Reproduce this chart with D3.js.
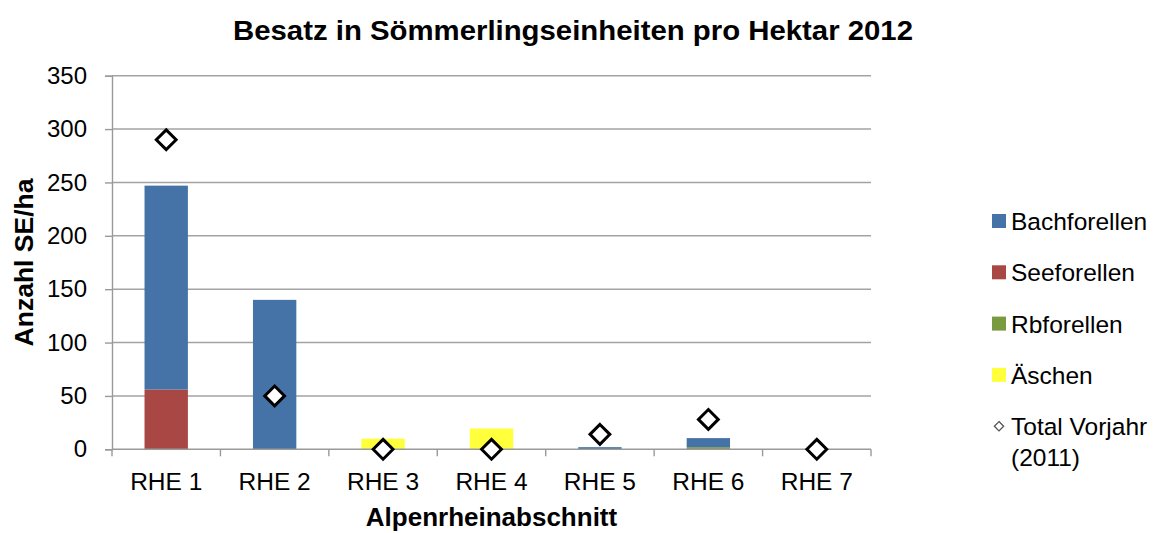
<!doctype html>
<html>
<head>
  <meta charset="utf-8">
  <script src="https://d3js.org/d3.v7.min.js"></script>
  <style>
    body { margin: 0; background: #fff; }
    text { font-family: "Liberation Sans", Arial, sans-serif; fill: #000; }
  </style>
</head>
<body>
  <div id="viz"></div>
  <script>
    // data
    var categories = ["RHE 1", "RHE 2", "RHE 3", "RHE 4", "RHE 5", "RHE 6", "RHE 7"];
    var bachforellen = [191, 140, 0, 0, 2, 8.5, 0];
    var seeforellen  = [56, 0, 0, 0, 0, 0, 0];
    var rbforellen   = [0, 0, 0, 0, 0, 2, 0];
    var aeschen      = [0, 0, 10, 19.5, 0, 0, 0];
    var vorjahr      = [290, 50, 0, 0, 14, 28, 0];
    var yTicks = [0, 50, 100, 150, 200, 250, 300, 350];

    // stacked bottom to top, like the Excel series order
    var series = [
      {key: "aeschen", name: "Äschen", color: "#ffff3b", values: aeschen},
      {key: "rb", name: "Rbforellen", color: "#7a9a3f", values: rbforellen},
      {key: "see", name: "Seeforellen", color: "#a94744", values: seeforellen},
      {key: "bach", name: "Bachforellen", color: "#4573a7", values: bachforellen}
    ];

    var rows = categories.map(function(c, i) {
      var r = {cat: c, total2011: vorjahr[i]};
      series.forEach(function(s) { r[s.key] = s.values[i]; });
      return r;
    });

    var W = 1153, H = 533;
    var plot = {left: 112, right: 871, top: 75.7, bottom: 449.3};

    var svg = d3.select("#viz").append("svg")
      .attr("width", W).attr("height", H);

    var x = d3.scaleBand().domain(categories)
      .range([plot.left, plot.right])
      .paddingInner(0.6).paddingOuter(0.3);
    var y = d3.scaleLinear().domain([0, 350]).range([plot.bottom, plot.top]);

    // gridlines
    svg.append("g").selectAll("line")
      .data(yTicks.filter(function(d) { return d > 0; }))
      .enter().append("line")
      .attr("x1", plot.left).attr("x2", plot.right)
      .attr("y1", function(d) { return y(d); })
      .attr("y2", function(d) { return y(d); })
      .attr("stroke", "#a3a3a3").attr("stroke-width", 1.4);

    // stacked bars
    var stack = d3.stack().keys(series.map(function(s) { return s.key; }));
    var layers = stack(rows);
    svg.append("g").selectAll("g")
      .data(layers)
      .enter().append("g")
      .attr("fill", function(d, i) { return series[i].color; })
      .selectAll("rect")
      .data(function(d) { return d; })
      .enter().append("rect")
      .attr("x", function(d) { return x(d.data.cat); })
      .attr("width", x.bandwidth())
      .attr("y", function(d) { return y(d[1]); })
      .attr("height", function(d) { return y(d[0]) - y(d[1]); });

    // y axis
    var yAxis = svg.append("g")
      .attr("transform", "translate(" + plot.left + ",0)")
      .call(d3.axisLeft(y).tickValues(yTicks).tickSize(7).tickPadding(18));
    yAxis.select(".domain").attr("stroke", "#9a9a9a").attr("stroke-width", 1.4);
    yAxis.selectAll(".tick line").attr("stroke", "#9a9a9a").attr("stroke-width", 1.4);
    yAxis.selectAll("text").style("font-size", "24px").attr("fill", "#000");

    // x axis: line, boundary ticks, labels
    var step = x.step();
    var xg = svg.append("g");
    xg.append("line")
      .attr("x1", plot.left).attr("x2", plot.right)
      .attr("y1", y(0)).attr("y2", y(0))
      .attr("stroke", "#9a9a9a").attr("stroke-width", 1.4);
    xg.selectAll(".bt")
      .data(d3.range(categories.length + 1))
      .enter().append("line")
      .attr("x1", function(i) { return plot.left + i * step; })
      .attr("x2", function(i) { return plot.left + i * step; })
      .attr("y1", y(0)).attr("y2", y(0) + 7)
      .attr("stroke", "#9a9a9a").attr("stroke-width", 1.4);
    xg.selectAll(".xl")
      .data(categories)
      .enter().append("text")
      .attr("x", function(d) { return x(d) + x.bandwidth() / 2; })
      .attr("y", y(0) + 41)
      .attr("text-anchor", "middle")
      .style("font-size", "24.5px")
      .text(function(d) { return d; });

    // previous year markers
    var diamond = d3.symbol().type(d3.symbolDiamond2).size(250);
    svg.append("g").selectAll("path")
      .data(rows)
      .enter().append("path")
      .attr("d", diamond)
      .attr("transform", function(d) {
        return "translate(" + (x(d.cat) + x.bandwidth() / 2) + "," + y(d.total2011) + ")";
      })
      .attr("fill", "#fff").attr("stroke", "#000").attr("stroke-width", 3);

    // titles
    svg.append("text")
      .attr("x", 573).attr("y", 40)
      .attr("text-anchor", "middle")
      .attr("textLength", 680).attr("lengthAdjust", "spacingAndGlyphs")
      .style("font-size", "27px").style("font-weight", "bold")
      .text("Besatz in Sömmerlingseinheiten pro Hektar 2012");

    svg.append("text")
      .attr("x", (plot.left + plot.right) / 2).attr("y", 526)
      .attr("text-anchor", "middle")
      .style("font-size", "26px").style("font-weight", "bold")
      .text("Alpenrheinabschnitt");

    svg.append("text")
      .attr("transform", "translate(33," + (plot.top + plot.bottom) / 2 + ") rotate(-90)")
      .attr("text-anchor", "middle")
      .style("font-size", "26.5px").style("font-weight", "bold")
      .text("Anzahl SE/ha");

    // legend (top series first, like Excel)
    var legendItems = series.slice().reverse();
    var lg = svg.append("g");
    var rowH = 51.3, ly0 = 221;
    legendItems.forEach(function(s, i) {
      var cy = ly0 + i * rowH;
      lg.append("rect")
        .attr("x", 992).attr("y", cy - 7)
        .attr("width", 14).attr("height", 14)
        .attr("fill", s.color);
      lg.append("text")
        .attr("x", 1011).attr("y", cy + 9)
        .style("font-size", "24.5px")
        .text(s.name);
    });
    var cyT = ly0 + legendItems.length * rowH;
    lg.append("path")
      .attr("d", d3.symbol().type(d3.symbolDiamond2).size(55))
      .attr("transform", "translate(999," + cyT + ")")
      .attr("fill", "#fff").attr("stroke", "#555").attr("stroke-width", 1.3);
    lg.append("text")
      .attr("x", 1011).attr("y", cyT + 9)
      .style("font-size", "24.5px")
      .text("Total Vorjahr");
    lg.append("text")
      .attr("x", 1011).attr("y", cyT + 40)
      .style("font-size", "24.5px")
      .text("(2011)");
  </script>
</body>
</html>
